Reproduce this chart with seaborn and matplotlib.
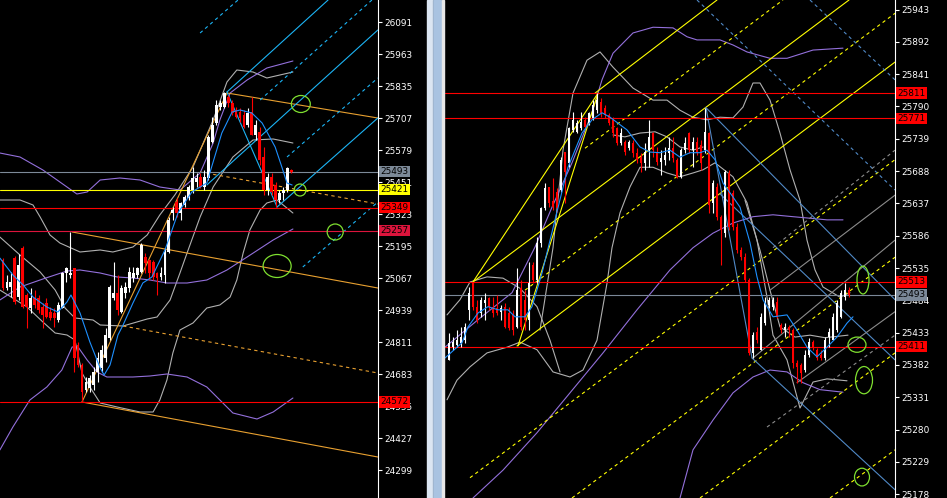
import matplotlib
matplotlib.use("Agg")
import matplotlib.pyplot as plt
from matplotlib.patches import Ellipse, Rectangle
import numpy as np
import pandas as pd
import seaborn as sns

# ---------------- left chart (candles) ----------------
left_open = [25139, 25027, 25031, 25147, 24991, 25187, 24999, 24947, 24987, 24987,
             24951, 24967, 24931, 24927, 24899, 24947, 25087, 25079, 25107, 24799,
             24719, 24619, 24627, 24639, 24691, 24707, 24747, 24827, 24987, 25007,
             24931, 25007, 25027, 25067, 25079, 25091, 25151, 25139, 25131, 25087,
             25071, 25079, 25171, 25327, 25371, 25327, 25359, 25387, 25419, 25451,
             25471, 25431, 25467, 25611, 25687, 25751, 25751, 25791, 25767, 25739,
             25731, 25719, 25679, 25731, 25639, 25651, 25551, 25419, 25471, 25439,
             25379, 25407, 25419, 25499]
left_high = [25147, 25079, 25091, 25155, 25163, 25195, 25007, 25027, 25019, 24999,
             24967, 24987, 24951, 24947, 24971, 25091, 25111, 25251, 25107, 24811,
             24727, 24671, 24679, 24711, 24771, 24799, 24867, 25039, 25131, 25079,
             25039, 25051, 25111, 25111, 25111, 25207, 25167, 25139, 25139, 25091,
             25111, 25187, 25311, 25351, 25387, 25371, 25399, 25439, 25511, 25487,
             25487, 25499, 25639, 25711, 25779, 25779, 25811, 25799, 25779, 25751,
             25747, 25739, 25747, 25791, 25699, 25671, 25591, 25487, 25487, 25451,
             25419, 25431, 25511, 25503]
left_low = [25019, 25019, 24991, 24963, 24979, 24947, 24867, 24927, 24947, 24927,
            24867, 24907, 24899, 24871, 24891, 24947, 25051, 25067, 24691, 24711,
            24571, 24611, 24611, 24619, 24651, 24691, 24731, 24819, 24979, 24919,
            24927, 24987, 25011, 25051, 25067, 25087, 25087, 25059, 25059, 24999,
            25059, 25047, 25167, 25299, 25311, 25299, 25351, 25379, 25407, 25431,
            25427, 25419, 25459, 25607, 25679, 25739, 25747, 25751, 25719, 25707,
            25691, 25667, 25671, 25639, 25619, 25519, 25399, 25399, 25399, 25351,
            25367, 25379, 25411, 25487]
left_close = [25027, 25051, 25051, 24971, 25119, 24951, 24951, 24987, 24959, 24939,
              24919, 24911, 24907, 24907, 24959, 25087, 25107, 25087, 24747, 24719,
              24611, 24651, 24667, 24691, 24747, 24779, 24839, 25031, 25007, 24939,
              25027, 25031, 25091, 25087, 25107, 25199, 25127, 25087, 25071, 25067,
              25087, 25171, 25299, 25339, 25327, 25367, 25391, 25431, 25467, 25467,
              25431, 25471, 25631, 25679, 25759, 25767, 25807, 25767, 25727, 25711,
              25707, 25671, 25727, 25639, 25679, 25539, 25419, 25471, 25411, 25379,
              25407, 25419, 25507, 25491]

left_ticks = [26091, 25963, 25835, 25707, 25579, 25451, 25323, 25195, 25067,
              24939, 24811, 24683, 24555, 24427, 24299]
left_levels = [25493, 25421, 25349, 25257, 24572]
left_level_colors = ["#7d8a98", "#ffff00", "#ff0000", "#dc143c", "#ff0000"]

# indicator curves (bar, price)
left_ma_x = [-0.8, 2.5, 5.1, 7.6, 11.1, 13.9, 16.2, 17.2, 19.5, 22.0, 24.6, 25.6, 27.1, 29.1,
             30.4, 32.9, 35.4, 37.7, 41.0, 44.3, 47.8, 51.6, 55.4, 58.0, 60.0, 63.0, 65.6,
             68.9, 70.6, 71.9, 73.2]
left_ma_y = [25147, 25079, 25039, 24991, 24951, 24931, 24971, 24999, 24927, 24811, 24707,
             24679, 24719, 24839, 24879, 24967, 25047, 25071, 25179, 25327, 25411, 25447,
             25647, 25731, 25739, 25727, 25687, 25591, 25511, 25447, 25439]
left_bb_up_x = [-0.8, 4.3, 7.6, 9.4, 11.9, 14.4, 19.5, 24.6, 27.8, 32.9, 36.5, 39.7, 43.5,
                48.1, 53.2, 56.7, 59.2, 63.3, 66.8, 70.1, 73.4]
left_bb_up_y = [25379, 25379, 25359, 25311, 25239, 25207, 25171, 25179, 25171, 25191, 25239,
                25319, 25399, 25511, 25699, 25851, 25899, 25891, 25867, 25879, 25891]
left_bb_mid_x = [-0.8, 4.3, 9.4, 13.2, 15.7, 18.2, 22.8, 24.6, 30.4, 36.5, 39.0, 42.3, 44.8,
                 46.6, 49.9, 53.2, 58.2, 63.3, 68.4, 73.4]
left_bb_mid_y = [25231, 25159, 25091, 25019, 24947, 24907, 24899, 24879, 24875, 24903, 24911,
                 24979, 25087, 25167, 25311, 25431, 25551, 25619, 25623, 25607]
left_bb_low_x = [-0.8, 6.1, 10.1, 13.2, 16.2, 18.2, 20.0, 22.0, 24.6, 28.9, 34.7, 38.0, 39.7,
                 41.5, 43.0, 44.8, 48.1, 51.6, 54.9, 57.5, 59.2, 60.8, 62.5, 65.1, 66.8,
                 69.4, 73.4]
left_bb_low_y = [25019, 24951, 24891, 24847, 24839, 24819, 24687, 24631, 24567, 24551, 24531,
                 24531, 24579, 24659, 24767, 24859, 24887, 24947, 24959, 24991, 25059, 25167,
                 25259, 25339, 25367, 25379, 25327]
left_env_up_x = [-0.8, 4.3, 10.1, 16.2, 18.7, 21.3, 24.6, 29.6, 34.7, 39.7, 44.8, 49.9, 53.2,
                 54.9, 57.5, 61.8, 66.8, 73.4]
left_env_up_y = [25567, 25551, 25499, 25431, 25403, 25411, 25459, 25467, 25459, 25431, 25419,
                 25487, 25607, 25699, 25807, 25859, 25907, 25935]
left_env_mid_x = [-0.8, 4.3, 10.1, 16.2, 19.5, 24.6, 28.9, 32.9, 37.2, 41.5, 46.6, 51.6, 56.7,
                  61.8, 68.4, 73.4]
left_env_mid_y = [24979, 25031, 25063, 25095, 25099, 25087, 25071, 25067, 25059, 25047, 25047,
                  25059, 25099, 25151, 25219, 25263]
left_env_low_x = [-0.8, 2.5, 6.8, 11.1, 14.9, 17.5, 19.0, 21.3, 23.8, 26.3, 32.9, 37.2, 41.5,
                  46.6, 51.6, 54.9, 58.2, 64.3, 68.4, 73.4]
left_env_low_y = [24379, 24471, 24579, 24631, 24699, 24791, 24791, 24739, 24691, 24671, 24671,
                  24675, 24683, 24671, 24631, 24579, 24527, 24503, 24531, 24587]

# trend lines (bar0, price0, bar1, price1)
left_orange_solid = [(56.7, 25807, 94.9, 25707), (17.5, 25251, 94.9, 25027),
                     (20.0, 24571, 94.9, 24351), (20.0, 24571, 56.7, 25807)]
left_orange_dashed = [(49.9, 25491, 94.9, 25363), (30.4, 24875, 94.9, 24687)]
left_cyan_solid = [(56.7, 25811, 82.3, 26179), (51.6, 25439, 94.9, 26059),
                   (69.4, 25351, 94.9, 25707), (56.7, 25811, 69.4, 25351)]
left_cyan_dashed = [(49.9, 26047, 59.5, 26179), (65.1, 25779, 93.4, 26179),
                    (71.9, 25551, 94.9, 25867), (75.9, 25111, 94.9, 25371)]
left_circles = [(75.4, 25763, 4.8, 68), (75.2, 25419, 3.0, 48),
                (84.1, 25251, 4.05, 64), (69.4, 25115, 7.1, 92)]

# ---------------- right chart (candles) ----------------
right_open = [25390, 25410, 25414, 25417, 25421, 25469, 25511, 25474, 25464, 25480,
              25488, 25474, 25472, 25466, 25474, 25464, 25461, 25442, 25503, 25485,
              25453, 25540, 25516, 25575, 25630, 25663, 25640, 25655, 25658, 25718,
              25701, 25753, 25750, 25756, 25769, 25764, 25772, 25784, 25797, 25788,
              25776, 25769, 25756, 25732, 25734, 25724, 25732, 25717, 25710, 25701,
              25721, 25748, 25717, 25702, 25706, 25717, 25724, 25706, 25679, 25721,
              25748, 25721, 25734, 25729, 25721, 25748, 25638, 25663, 25616, 25590,
              25685, 25653, 25600, 25563, 25552, 25516, 25401, 25434, 25406, 25448,
              25477, 25474, 25482, 25445, 25437, 25442, 25437, 25385, 25382, 25374,
              25398, 25418, 25406, 25398, 25393, 25426, 25421, 25437, 25458, 25489,
              25500]
right_high = [25432, 25426, 25437, 25442, 25448, 25505, 25513, 25485, 25489, 25496,
              25489, 25489, 25493, 25477, 25480, 25474, 25469, 25535, 25516, 25500,
              25545, 25545, 25584, 25632, 25669, 25663, 25677, 25661, 25710, 25718,
              25758, 25781, 25769, 25781, 25773, 25781, 25800, 25811, 25803, 25792,
              25780, 25773, 25758, 25756, 25737, 25737, 25737, 25724, 25717, 25732,
              25769, 25750, 25726, 25721, 25726, 25742, 25742, 25709, 25724, 25742,
              25750, 25742, 25742, 25737, 25788, 25750, 25674, 25669, 25619, 25690,
              25690, 25658, 25606, 25568, 25558, 25519, 25434, 25442, 25464, 25489,
              25489, 25489, 25489, 25448, 25448, 25445, 25440, 25390, 25385, 25406,
              25424, 25421, 25409, 25406, 25426, 25440, 25464, 25485, 25500, 25511,
              25505]
right_low = [25390, 25406, 25410, 25410, 25417, 25453, 25469, 25448, 25458, 25453,
             25469, 25458, 25461, 25453, 25440, 25437, 25429, 25440, 25437, 25437,
             25437, 25511, 25511, 25568, 25627, 25632, 25627, 25624, 25655, 25638,
             25694, 25750, 25748, 25753, 25756, 25761, 25769, 25780, 25774, 25772,
             25761, 25742, 25729, 25729, 25713, 25721, 25710, 25701, 25687, 25690,
             25694, 25710, 25698, 25682, 25698, 25706, 25702, 25677, 25677, 25717,
             25717, 25694, 25713, 25690, 25717, 25622, 25622, 25611, 25540, 25584,
             25595, 25595, 25558, 25548, 25513, 25398, 25393, 25417, 25406, 25445,
             25472, 25469, 25456, 25432, 25426, 25426, 25377, 25354, 25354, 25371,
             25395, 25406, 25390, 25390, 25390, 25410, 25421, 25434, 25456, 25485,
             25489]
right_close = [25417, 25418, 25421, 25426, 25442, 25496, 25474, 25453, 25485, 25485,
               25474, 25464, 25464, 25472, 25442, 25440, 25437, 25500, 25442, 25453,
               25511, 25516, 25575, 25630, 25661, 25638, 25632, 25630, 25706, 25687,
               25756, 25769, 25764, 25766, 25758, 25780, 25792, 25800, 25780, 25776,
               25764, 25748, 25732, 25748, 25718, 25734, 25717, 25706, 25701, 25718,
               25742, 25721, 25702, 25709, 25713, 25724, 25709, 25679, 25721, 25732,
               25721, 25734, 25717, 25701, 25750, 25634, 25669, 25616, 25595, 25687,
               25600, 25600, 25563, 25552, 25516, 25401, 25429, 25421, 25458, 25480,
               25485, 25485, 25458, 25437, 25442, 25437, 25385, 25379, 25369, 25398,
               25418, 25410, 25393, 25393, 25421, 25434, 25458, 25480, 25496, 25500,
               25493]

right_ticks = [25943, 25892, 25841, 25790, 25739, 25688, 25637, 25586, 25535, 25484,
               25433, 25382, 25331, 25280, 25229, 25178]
right_levels = [25811, 25771, 25513, 25493, 25411]
right_level_colors = ["#ff0000", "#ff0000", "#ff0000", "#7b8898", "#ff0000"]

right_ma_x = [-1, 3.25, 4.75, 7.25, 9.75, 12.25, 14.75, 16.5, 19, 20.75, 23.25, 26.5, 29.75,
              33.25, 35.75, 38.25, 40.25, 44.5, 47.75, 50.25, 52.75, 55.25, 57.75, 60.25,
              62.75, 64.5, 66.5, 68.5, 71, 72.75, 75.25, 77, 78.5, 81, 84.5, 87, 89.5, 92,
              94.5, 97, 99.5, 101]
right_ma_y = [25393, 25417, 25442, 25464, 25474, 25469, 25469, 25458, 25458, 25474, 25527,
              25611, 25694, 25748, 25769, 25780, 25773, 25753, 25726, 25718, 25717, 25721,
              25710, 25717, 25717, 25721, 25706, 25669, 25647, 25631, 25575, 25521, 25485,
              25458, 25461, 25437, 25410, 25395, 25410, 25426, 25448, 25458]
right_bb1_x = [22.75, 26, 28.5, 31, 34.5, 37.75, 41, 46, 51, 54.5, 57.75, 61, 64.5, 67.75, 71,
               73.5, 76, 77.75, 80.25, 82.75, 85.25, 87.75, 89.5, 91.5, 93.5, 97.75, 100.25]
right_bb1_y = [25437, 25567, 25721, 25811, 25863, 25876, 25852, 25819, 25800, 25800, 25784,
               25773, 25769, 25773, 25772, 25789, 25827, 25827, 25800, 25748, 25690, 25642,
               25579, 25532, 25505, 25489, 25496]
right_bb2_x = [-0.5, 2, 5.25, 9.5, 14.5, 17.75, 22, 26, 30.25, 33.5, 37, 39.5, 40.75, 42.75,
               45.25, 47.75, 51, 54.5, 57.75, 61, 63.5, 66.5, 71, 74.5, 77, 79.5, 81, 84.5,
               87.75, 91, 94.5, 99.5]
right_bb2_y = [25327, 25358, 25379, 25401, 25410, 25418, 25406, 25371, 25363, 25374, 25421,
               25511, 25567, 25622, 25663, 25694, 25694, 25685, 25679, 25685, 25690, 25701,
               25679, 25638, 25579, 25489, 25429, 25390, 25314, 25355, 25360, 25357]
right_bb3_x = [-0.5, 2.75, 5.25, 9.5, 13.5, 17.75, 22, 25.25, 27.75]
right_bb3_y = [25461, 25485, 25513, 25521, 25519, 25503, 25474, 25421, 25371]
right_bb4_x = [41, 44, 47.75, 51.5, 54.5, 57.75, 61, 63.5]
right_bb4_y = [25745, 25742, 25748, 25750, 25742, 25726, 25721, 25726]
right_bb5_x = [74, 77.75, 80.25, 82.75, 86.5, 90.25, 94, 99.75]
right_bb5_y = [25642, 25563, 25500, 25442, 25426, 25429, 25425, 25429]
right_env_up_x = [-1, 7.75, 15.75, 21.5, 25.75, 30.75, 35.75, 38.25, 41, 46, 51, 56, 59.5, 62,
                  67.75, 71, 74.5, 80.25, 84.5, 91, 98.5]
right_env_up_y = [25410, 25456, 25496, 25568, 25631, 25701, 25780, 25832, 25874, 25906, 25915,
                  25914, 25900, 25895, 25895, 25887, 25876, 25866, 25866, 25879, 25882]
right_env_mid_x = [6, 13.5, 22, 30.25, 38.5, 47, 55.25, 61, 66, 71, 76, 81, 86, 89.5, 94.5, 98.5]
right_env_mid_y = [25172, 25216, 25275, 25338, 25401, 25469, 25532, 25567, 25590, 25606, 25616,
                   25619, 25616, 25614, 25611, 25611]
right_env_low_x = [57.75, 61, 66, 71, 76, 80.25, 84.5, 88.5, 92.75, 98.5]
right_env_low_y = [25172, 25248, 25295, 25338, 25363, 25374, 25371, 25354, 25343, 25339]

right_yellow_solid = [(36.5, 25811, 67.0, 25958), (6.0, 25513, 100.0, 25958),
                      (17.0, 25412, 111.5, 25860), (6.0, 25513, 37.25, 25811),
                      (17.25, 25412, 37.25, 25811)]
right_yellow_dashed = [(34.0, 25724, 83.5, 25958), (19.0, 25500, 111.5, 25937),
                       (5.25, 25204, 111.5, 25706), (30.75, 25172, 111.5, 25552),
                       (62.75, 25172, 111.5, 25401), (95.25, 25172, 111.5, 25248)]
right_steel_solid = [(64.25, 25788, 111.5, 25485), (75.75, 25393, 111.5, 25185),
                     (67.75, 25652, 111.5, 25390), (64.25, 25788, 75.75, 25393)]
right_steel_dashed = [(62.0, 25958, 111.5, 25658), (90.25, 25958, 111.5, 25832)]
right_grey_solid = [(76.0, 25393, 111.5, 25579), (87.0, 25354, 111.5, 25466),
                    (80.25, 25500, 111.5, 25650)]
right_grey_dashed = [(81.0, 25567, 111.5, 25721), (79.5, 25284, 111.5, 25429)]
right_circles = [(103.5, 25516, 3.0, 44), (102.0, 25414, 4.5, 24),
                 (103.75, 25358, 4.25, 43), (103.25, 25205, 3.75, 28)]

# ---------------- styling ----------------
sns.set_theme(style="dark", rc={"axes.facecolor": "black", "figure.facecolor": "black"})
plt.rcParams["font.family"] = ["DejaVu Sans"]

GREY = "#b0b0b0"
PURPLE = "#9370db"
MA_BLUE = "#1e90ff"
CYAN = "#1cb4f5"
ORANGE = "#e8a030"
GREEN = "#7fe030"
STEEL = "#5089c6"
DASH = (0, (3, 3))
FS = 6.4


def curve(ax, xs, ys, color, lw=0.8, ls="-", z=3):
    df = pd.DataFrame({"bar": xs, "price": ys})
    sns.lineplot(data=df, x="bar", y="price", ax=ax, color=color, linewidth=lw,
                 linestyle=ls, sort=False, estimator=None, legend=False, zorder=z)


def trend(ax, lines, color, ls="-", lw=0.8):
    for x0, y0, x1, y1 in lines:
        curve(ax, [x0, x1], [y0, y1], color, lw=lw, ls=ls)


def candles(ax, o, h, l, c, min_h):
    o, h, l, c = map(np.asarray, (o, h, l, c))
    idx = np.arange(len(o))
    cols = np.where(c >= o, "white", "#ff0000")
    ax.vlines(idx, l, h, colors=cols, linewidth=0.8, zorder=5)
    ax.bar(idx, np.maximum(np.abs(c - o), min_h), bottom=np.minimum(o, c),
           width=0.72, color=cols, linewidth=0, zorder=6)


def setup(ax, xlim, ylim, ticks):
    ax.set_facecolor("black")
    ax.set_xlim(*xlim)
    ax.set_ylim(*ylim)
    ax.set_xticks([])
    ax.yaxis.tick_right()
    ax.set_yticks(ticks)
    ax.set_yticklabels([str(t) for t in ticks])
    ax.tick_params(axis="y", colors="white", labelcolor="white", length=3, width=0.8,
                   pad=1.2, labelsize=FS, direction="out")
    for s in ["top", "left", "bottom"]:
        ax.spines[s].set_visible(False)
    ax.spines["right"].set_color("white")
    ax.spines["right"].set_linewidth(0.8)
    ax.grid(False)
    ax.set_xlabel("")
    ax.set_ylabel("")


def levels(ax, prices, colors):
    for p, col in zip(prices, colors):
        ax.axhline(p, color=col, linewidth=0.8, zorder=4, snap=True)
        ax.text(1.006, p, str(p), transform=ax.get_yaxis_transform(), ha="left",
                va="center", fontsize=FS, color="black", zorder=10, clip_on=False,
                bbox=dict(boxstyle="square,pad=0.16", fc=col, ec="none"))


def circles(ax, items):
    for x, y, w, h in items:
        ax.add_patch(Ellipse((x, y), w, h, fill=False, ec=GREEN, lw=0.9, zorder=7))


fig = plt.figure(figsize=(9.47, 4.98), dpi=100, facecolor="black")
W = 947.0
axL = fig.add_axes([0, 0, 378 / W, 1])
axR = fig.add_axes([445 / W, 0, 450 / W, 1])

# ---- left panel ----
curve(axL, left_bb_up_x, left_bb_up_y, GREY)
curve(axL, left_bb_mid_x, left_bb_mid_y, GREY)
curve(axL, left_bb_low_x, left_bb_low_y, GREY)
curve(axL, left_env_up_x, left_env_up_y, PURPLE)
curve(axL, left_env_mid_x, left_env_mid_y, PURPLE)
curve(axL, left_env_low_x, left_env_low_y, PURPLE)
trend(axL, left_orange_solid, ORANGE)
trend(axL, left_orange_dashed, ORANGE, ls=DASH)
trend(axL, left_cyan_solid, CYAN)
trend(axL, left_cyan_dashed, CYAN, ls=DASH)
curve(axL, left_ma_x, left_ma_y, MA_BLUE, z=7)
candles(axL, left_open, left_high, left_low, left_close, 4)
circles(axL, left_circles)
setup(axL, (-0.76, 94.94), (24187, 26179), left_ticks)
levels(axL, left_levels, left_level_colors)

# ---- right panel ----
curve(axR, right_bb1_x, right_bb1_y, GREY)
curve(axR, right_bb2_x, right_bb2_y, GREY)
curve(axR, right_bb3_x, right_bb3_y, GREY)
curve(axR, right_bb4_x, right_bb4_y, GREY)
curve(axR, right_bb5_x, right_bb5_y, GREY)
curve(axR, right_env_up_x, right_env_up_y, PURPLE)
curve(axR, right_env_mid_x, right_env_mid_y, PURPLE)
curve(axR, right_env_low_x, right_env_low_y, PURPLE)
trend(axR, right_yellow_solid, "#ffff00")
trend(axR, right_yellow_dashed, "#ffff00", ls=DASH)
trend(axR, right_steel_solid, STEEL)
trend(axR, right_steel_dashed, STEEL, ls=DASH)
trend(axR, right_grey_solid, "#8c8c8c")
trend(axR, right_grey_dashed, "#8c8c8c", ls=DASH)
curve(axR, right_ma_x, right_ma_y, MA_BLUE, z=7)
candles(axR, right_open, right_high, right_low, right_close, 1.6)
circles(axR, right_circles)
setup(axR, (-1.0, 111.5), (25172, 25958), right_ticks)
levels(axR, right_levels, right_level_colors)

# window separator between the two charts
for x0, x1, col in [(427, 433, "#dce6f2"), (433, 434, "#9fb4cc"), (434, 441, "#a9c3e1"),
                    (442, 444, "#e8e8e8")]:
    fig.patches.append(Rectangle((x0 / W, 0), (x1 - x0) / W, 1, transform=fig.transFigure,
                                 color=col, zorder=20))

fig.savefig("out.png", dpi=100, facecolor="black")
